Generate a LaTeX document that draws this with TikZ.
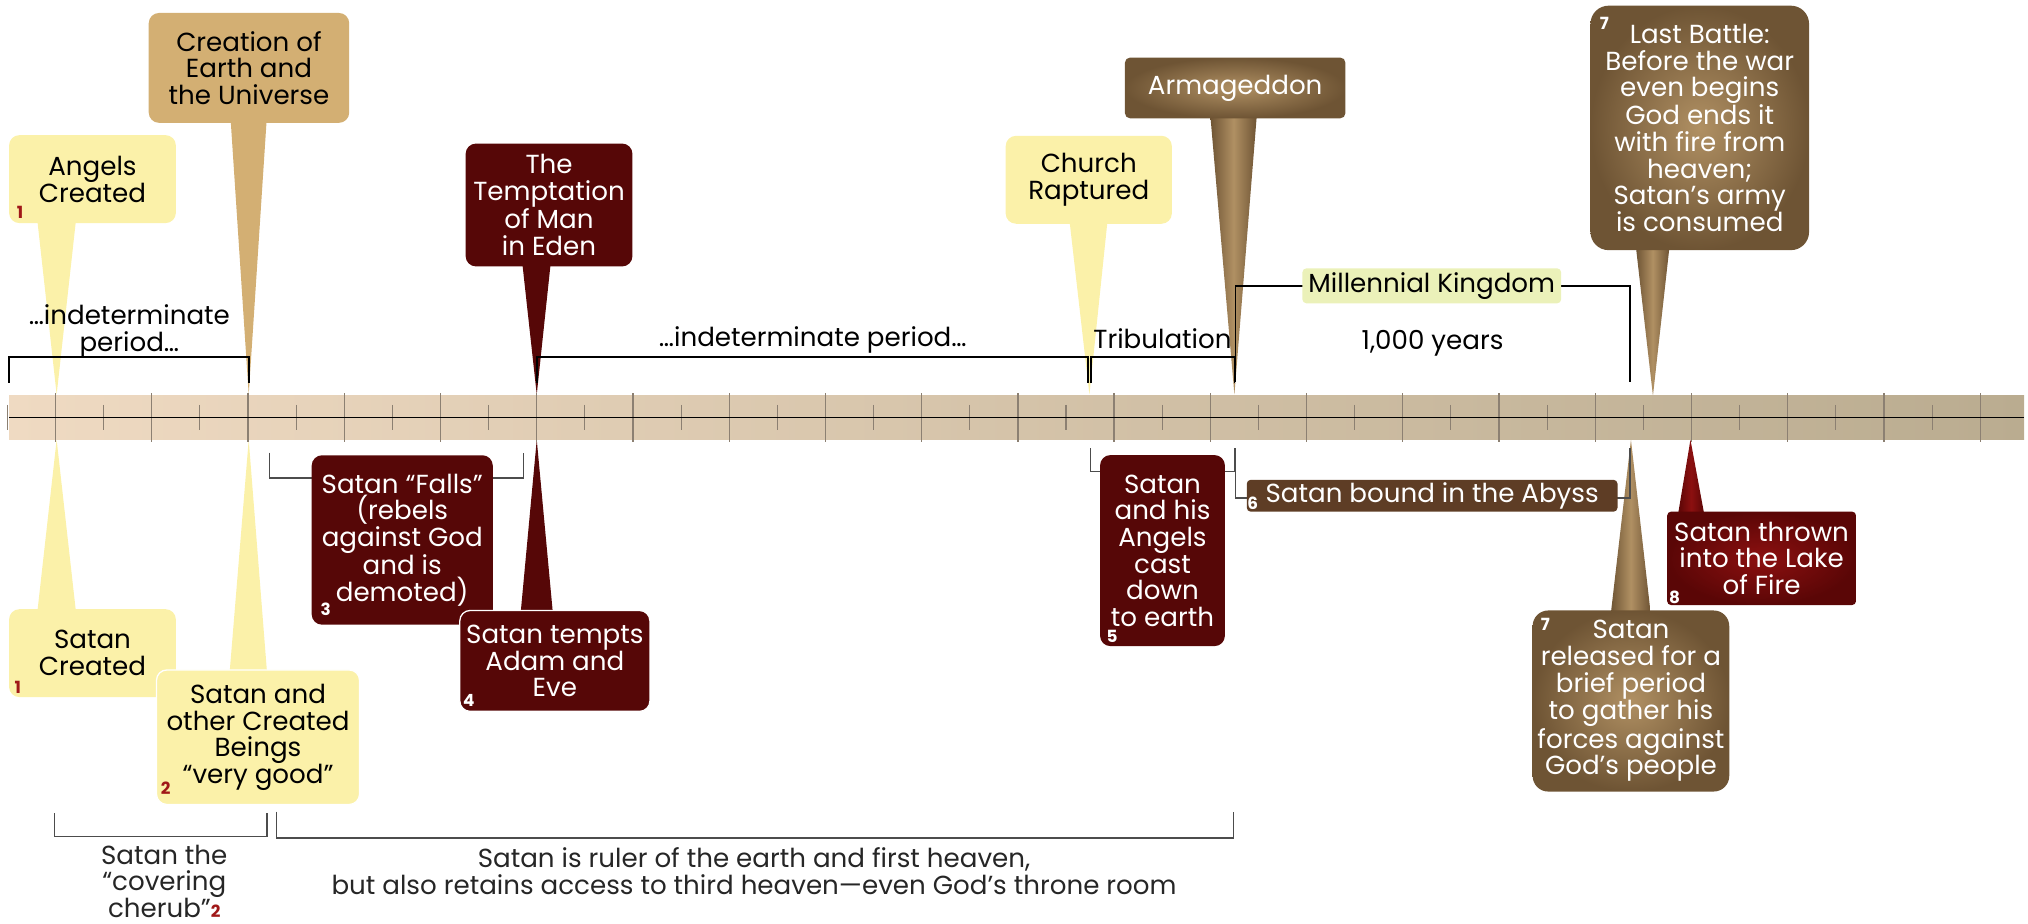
\documentclass[tikz,border=0pt]{standalone}
\usepackage{fontspec}
\setmainfont{Poppins}
\usetikzlibrary{backgrounds}
\definecolor{paleyel}{RGB}{251,241,169}
\definecolor{earthtan}{RGB}{211,175,115}
\definecolor{bloodred}{RGB}{86,7,7}
\definecolor{brlight}{RGB}{176,144,99}
\definecolor{brdark}{RGB}{110,84,52}
\definecolor{abyssbr}{RGB}{94,61,37}
\definecolor{firelight}{RGB}{140,16,16}
\definecolor{firedark}{RGB}{90,6,6}
\definecolor{mkgreen}{RGB}{235,241,185}
\definecolor{numred}{RGB}{160,24,24}
\definecolor{bandleft}{RGB}{239,218,194}
\definecolor{bandright}{RGB}{186,172,144}
\definecolor{tickgray}{RGB}{140,128,114}
\newcommand{\evfont}{\fontsize{20.2}{20.6}\selectfont}
\newcommand{\numfont}{\fontsize{13}{13}\selectfont\bfseries}

\begin{document}
\begin{tikzpicture}[x=1pt, y=-1pt,
    evbox/.style={rounded corners=8pt, inner sep=1pt, align=center, font=\evfont},
    goodbox/.style={evbox, fill=paleyel},
    evilbox/.style={evbox, fill=bloodred, text=white},
    wrathbox/.style={evbox, inner color=brlight, outer color=brdark, text=white},
    numlbl/.style={font=\numfont, inner sep=0pt},
    spanline/.style={line width=1.3pt},
    subspan/.style={line width=1pt, black!70},
    lbl/.style={align=center, font=\evfont, inner sep=0pt}
  ]
  \useasboundingbox (0,0) rectangle (1568,714);

  % timeline
  \shade[left color=bandleft, right color=bandright] (7,306) rectangle (1565,340);
  \foreach \k in {0,...,20}{
    \draw[tickgray, line width=1pt] (43+74.4*\k,304.2) -- (43+74.4*\k,341.6);
    \draw[tickgray, line width=0.8pt] (5.8+74.4*\k,313) -- (5.8+74.4*\k,332.5);
  }
  \draw[line width=0.8pt] (7,322.7) -- (1565,322.7);

  \coordinate (pAngels) at (43.8,305);
  \coordinate (pCreation) at (192.3,305);
  \coordinate (pTemptation) at (415,305);
  \coordinate (pChurch) at (842.3,305);
  \coordinate (pArmageddon) at (954.4,305);
  \coordinate (pBattle) at (1278,306);
  \coordinate (pSatan) at (43.8,340);
  \coordinate (pGood) at (192.3,340);
  \coordinate (pTempts) at (415,340);
  \coordinate (pRelease) at (1261,340);
  \coordinate (pLake) at (1307,340);

  % spans
  \draw[spanline] (7,296) -- (7,276) -- (192.3,276) -- (192.3,296);
  \draw[spanline] (415,296) -- (415,275.8) -- (841.3,275.8) -- (841.3,296);
  \draw[spanline] (843.5,296) -- (843.5,275.8) -- (954.4,275.8) -- (954.4,296);
  \draw[spanline] (955.3,295) -- (955.3,220.9) -- (1260.3,220.9) -- (1260.3,295);
  \draw[subspan] (208.5,350) -- (208.5,369.6) -- (405,369.6) -- (405,350);
  \draw[subspan] (843.2,346.5) -- (843.2,364.7) -- (954.4,364.7) -- (954.4,346.5);
  \draw[subspan] (955.3,346.5) -- (955.3,385) -- (1260.3,385) -- (1260.3,346.5);
  \draw[subspan] (42,628.7) -- (42,647) -- (206.4,647) -- (206.4,628.7);
  \draw[subspan] (214,627.5) -- (214,648) -- (953.5,648) -- (953.5,627.5);

  % events above the line
  \node[goodbox, minimum width=129, minimum height=68] (angels) at (71.5,138.5) {Angels\\Created};
  \node[evbox, fill=earthtan, minimum width=155, minimum height=85] (creation) at (192.5,52.5) {Creation of\\Earth and\\the Universe};
  \node[evilbox, minimum width=129, minimum height=95] (temptation) at (424.5,158.5) {The\\Temptation\\of Man\\in Eden};
  \node[goodbox, minimum width=128.5, minimum height=68] (church) at (841.8,139) {Church\\Raptured};
  \node[wrathbox, rounded corners=4pt, minimum width=170.5, minimum height=47] (armageddon) at (955,68) {Armageddon};
  \node[wrathbox, rounded corners=14pt, minimum width=169, minimum height=189] (battle) at (1314.2,98.9) {Last Battle:\\Before the war\\even begins\\God ends it\\with fire from\\heaven;\\Satan’s army\\is consumed};

  % events below the line
  \node[goodbox, minimum width=129, minimum height=68] (created) at (71.5,505) {Satan\\Created};
  \node[goodbox, draw=white, line width=1pt, minimum width=157, minimum height=104] (verygood) at (199.5,570) {Satan and\\other Created\\Beings\\“very good”};
  \node[evilbox, minimum width=140, minimum height=131] (falls) at (311,417.5) {Satan “Falls”\\(rebels\\against God\\and is\\demoted)};
  \node[evilbox, draw=white, line width=1pt, minimum width=147, minimum height=78] (tempts) at (429,511) {Satan tempts\\Adam and\\Eve};
  \node[evilbox, minimum width=96.5, minimum height=147.7] (castdown) at (898.8,425.7) {Satan\\and his\\Angels\\cast\\down\\to earth};
  \node[evbox, fill=abyssbr, text=white, rounded corners=3pt, minimum width=286.6, minimum height=24.6] (abyss) at (1107.3,383.3) {Satan bound in the Abyss};
  \node[wrathbox, rounded corners=12pt, minimum width=152, minimum height=140] (release) at (1261,542) {Satan\\released for a\\brief period\\to gather his\\forces against\\God’s people};
  \node[evbox, inner color=firelight, outer color=firedark, text=white, rounded corners=3pt, minimum width=146, minimum height=72.2] (lake) at (1362,431.7) {Satan thrown\\into the Lake\\of Fire};

  \node[lbl, fill=mkgreen, rounded corners=3pt, minimum width=200, minimum height=27] (kingdom) at (1107,221) {Millennial Kingdom};

  % pointers
  \begin{scope}[on background layer]
    \fill[paleyel] ([xshift=22pt,yshift=3pt]angels.south west) -- ([xshift=52pt,yshift=3pt]angels.south west) -- (pAngels) -- cycle;
    \fill[earthtan] ([xshift=63.5pt,yshift=3pt]creation.south west) -- ([xshift=91.4pt,yshift=3pt]creation.south west) -- (pCreation) -- cycle;
    \fill[bloodred] ([xshift=44pt,yshift=3pt]temptation.south west) -- ([xshift=66pt,yshift=3pt]temptation.south west) -- (pTemptation) -- cycle;
    \fill[paleyel] ([xshift=49.5pt,yshift=3pt]church.south west) -- ([xshift=79pt,yshift=3pt]church.south west) -- (pChurch) -- cycle;
    \shade[left color=brdark, right color=brdark, middle color=brlight] ([xshift=66.2pt,yshift=3pt]armageddon.south west) -- ([xshift=102.2pt,yshift=3pt]armageddon.south west) -- (pArmageddon) -- cycle;
    \shade[left color=brdark, right color=brdark, middle color=brlight] ([xshift=35.3pt,yshift=3pt]battle.south west) -- ([xshift=61.3pt,yshift=3pt]battle.south west) -- (pBattle) -- cycle;
    \fill[paleyel] ([xshift=22pt,yshift=-3pt]created.north west) -- ([xshift=52pt,yshift=-3pt]created.north west) -- (pSatan) -- cycle;
    \fill[paleyel] ([xshift=57pt,yshift=-3pt]verygood.north west) -- ([xshift=86pt,yshift=-3pt]verygood.north west) -- (pGood) -- cycle;
    \fill[bloodred] ([xshift=47.5pt,yshift=-3pt]tempts.north west) -- ([xshift=72.5pt,yshift=-3pt]tempts.north west) -- (pTempts) -- cycle;
    \shade[left color=brdark, right color=brdark, middle color=brlight] ([xshift=60.6pt,yshift=-3pt]release.north west) -- ([xshift=91.5pt,yshift=-3pt]release.north west) -- (pRelease) -- cycle;
    \shade[left color=firedark, right color=firedark, middle color=firelight] ([xshift=8.5pt,yshift=-3pt]lake.north west) -- ([xshift=29pt,yshift=-3pt]lake.north west) -- (pLake) -- cycle;
  \end{scope}

  % footnote numbers
  \node[numlbl, numred] (nAngels) at ([shift={(8.6,-8.6)}]angels.south west) {1};
  \node[numlbl, numred] (nCreated) at ([shift={(7,-8)}]created.south west) {1};
  \node[numlbl, numred] (nGood) at ([shift={(7.5,-13)}]verygood.south west) {2};
  \node[numlbl, white] (nFalls) at ([shift={(11,-12)}]falls.south west) {3};
  \node[numlbl, white] (nTempts) at ([shift={(7.5,-9)}]tempts.south west) {4};
  \node[numlbl, white] (nCast) at ([shift={(9.5,-7.5)}]castdown.south west) {5};
  \node[numlbl, white] (nAbyss) at ([shift={(4.8,-6.6)}]abyss.south west) {6};
  \node[numlbl, white] (nRelease) at ([shift={(10,11.3)}]release.north west) {7};
  \node[numlbl, white] (nBattle) at ([shift={(11,13.6)}]battle.north west) {7};
  \node[numlbl, white] (nLake) at ([shift={(6,-6.5)}]lake.south west) {8};

  % period labels
  \node[lbl] (period1) at (100,256.5) {…indeterminate\\period…};
  \node[lbl] (period2) at (628.4,263) {…indeterminate period…};
  \node[lbl] (tribulation) at (898.8,261.6) {Tribulation};
  \node[lbl] (years) at (1107.6,265.4) {1,000 years};
  \node[lbl, text=black!85] (cherub) at (127,681.5) {Satan the\\“covering\\cherub”{\numfont\color{numred}2}};
  \node[lbl, text=black!85] (ruler) at (583,673.5) {Satan is ruler of the earth and first heaven,\\but also retains access to third heaven—even God’s throne room};
\end{tikzpicture}
\end{document}
